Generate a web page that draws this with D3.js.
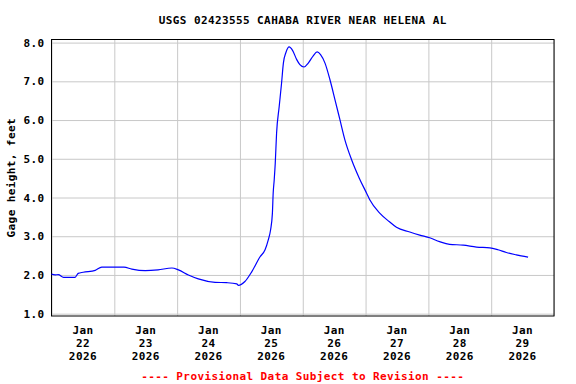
<!DOCTYPE html>
<html>
<head>
<meta charset="utf-8">
<script src="https://cdn.jsdelivr.net/npm/d3@7"></script>
<style>
  body { margin: 0; background: #fff; }
  text { font-family: "DejaVu Sans Mono", monospace; font-weight: bold; font-size: 11px; letter-spacing: 0.4px; }
</style>
</head>
<body>
<div id="chart"></div>
<script>
// gage height readings: hours after Jan 22 00:00, feet
var hours = [0, 1.4, 2.6, 4.6, 9.0, 10.2, 12.1, 16.7, 19.2, 27.7, 30.7, 35.8, 40.7, 46.0, 48.5,
  52.3, 56.1, 62.5, 67.0, 70.8, 71.4, 73.9, 76.5, 79.7, 81.6, 82.8, 83.7, 84.4, 84.7, 85.1,
  85.5, 86.0, 87.0, 87.9, 88.6, 89.6, 90.8, 92.1, 93.7, 94.9, 96.5, 98.1, 100.0, 101.5, 102.8,
  104.5, 106.4, 108.3, 110.2, 112.1, 114.7, 117.6, 120.4, 121.6, 125.5, 129.0, 131.8, 136.9,
  140.7, 144.5, 148.3, 152.1, 157.3, 162.4, 167.5, 170.6, 173.8, 177.6, 182.1];
var gage = [2.02, 2.00, 2.01, 1.94, 1.94, 2.04, 2.07, 2.12, 2.20, 2.20, 2.15, 2.11, 2.13, 2.18, 2.13,
  2.00, 1.90, 1.81, 1.80, 1.77, 1.73, 1.83, 2.08, 2.47, 2.65, 2.90, 3.16, 3.59, 4.11, 4.46,
  4.89, 5.66, 6.35, 6.95, 7.47, 7.75, 7.89, 7.80, 7.56, 7.43, 7.37, 7.47, 7.66, 7.76, 7.69,
  7.47, 7.04, 6.53, 6.01, 5.49, 4.97, 4.50, 4.11, 3.94, 3.59, 3.38, 3.23, 3.11,
  3.03, 2.96, 2.86, 2.79, 2.77, 2.72, 2.70, 2.65, 2.58, 2.52, 2.46];

var yTicks = [1, 2, 3, 4, 5, 6, 7, 8];
var dayLabels = ["22", "23", "24", "25", "26", "27", "28", "29"];

var title = "USGS 02423555 CAHABA RIVER NEAR HELENA AL";
var yTitle = "Gage height, feet";
var footer = "---- Provisional Data Subject to Revision ----";

var margin = {top: 39.5, right: 22, bottom: 68, left: 51.5},
  width = 576 - margin.left - margin.right,
  height = 384 - margin.top - margin.bottom;

var svg = d3.select("#chart")
  .append("svg")
  .attr("width", 576)
  .attr("height", 384);

var start = new Date(2026, 0, 22);
var end = new Date(2026, 0, 30);

var x = d3.scaleTime().domain([start, end]).range([0, width]);
var y = d3.scaleLinear().domain([0.94, 8.08]).range([height, 0]);

var g = svg.append("g")
  .attr("transform", "translate(" + margin.left + "," + margin.top + ")");

// grid
g.append("g")
  .call(d3.axisLeft(y).tickValues(yTicks).tickSize(-width).tickFormat(""))
  .call(function(a) { a.select(".domain").remove(); })
  .selectAll("line").attr("stroke", "#c8c8c8");

g.append("g")
  .attr("transform", "translate(0," + height + ")")
  .call(d3.axisBottom(x).ticks(d3.timeDay.every(1)).tickSize(-height).tickFormat(""))
  .call(function(a) { a.select(".domain").remove(); })
  .selectAll("line").attr("stroke", "#c8c8c8");

// frame
g.append("rect")
  .attr("width", width)
  .attr("height", height)
  .attr("fill", "none")
  .attr("stroke", "#000")
  .attr("stroke-width", 1);

// y labels
g.selectAll(".ylab")
  .data(yTicks)
  .enter()
  .append("text")
  .attr("x", -7)
  .attr("y", function(d) { return y(d) + 4; })
  .attr("text-anchor", "end")
  .text(function(d) { return d.toFixed(1); });

// x labels, centred at noon of each day
var xl = g.selectAll(".xlab")
  .data(dayLabels)
  .enter()
  .append("text")
  .attr("text-anchor", "middle")
  .attr("transform", function(d, i) {
    return "translate(" + x(d3.timeHour.offset(start, 24 * i + 12)) + "," + (height + 18) + ")";
  });
xl.append("tspan").attr("x", 0).attr("y", 0).text("Jan");
xl.append("tspan").attr("x", 0).attr("y", 13).text(function(d) { return d; });
xl.append("tspan").attr("x", 0).attr("y", 26).text("2026");

// data line
var line = d3.line()
  .x(function(d) { return x(d3.timeMinute.offset(start, Math.round(d[0] * 60))); })
  .y(function(d) { return y(d[1]); })
  .curve(d3.curveMonotoneX);

g.append("path")
  .datum(d3.zip(hours, gage))
  .attr("fill", "none")
  .attr("stroke", "#0000ff")
  .attr("stroke-width", 1.2)
  .attr("d", line);

// titles
svg.append("text")
  .attr("x", margin.left + width / 2)
  .attr("y", 24)
  .attr("text-anchor", "middle")
  .text(title);

svg.append("text")
  .attr("transform", "translate(15," + (margin.top + height / 2) + ") rotate(-90)")
  .attr("text-anchor", "middle")
  .text(yTitle);

svg.append("text")
  .attr("x", margin.left + width / 2)
  .attr("y", 380)
  .attr("text-anchor", "middle")
  .attr("fill", "#ff0000")
  .text(footer);
</script>
</body>
</html>
